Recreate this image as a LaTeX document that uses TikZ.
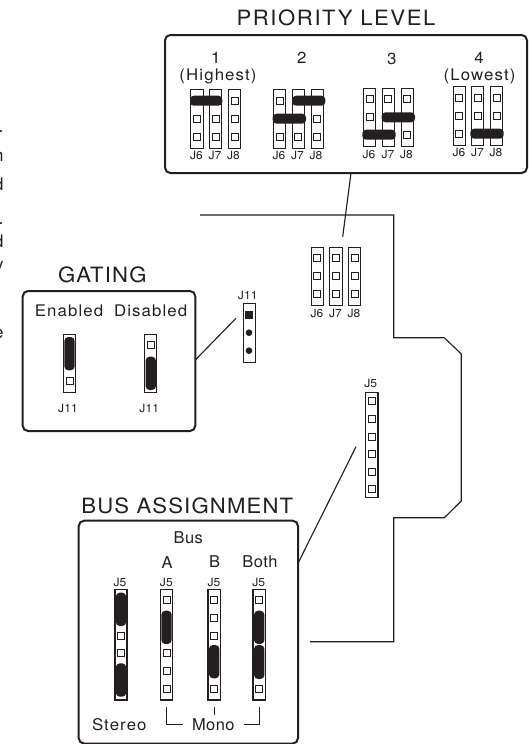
\documentclass[tikz,border=0pt]{standalone}
\usepackage{fontspec}
\usetikzlibrary{fit}
\setmainfont{TeX Gyre Heros}
\newfontfamily\titlefont[FakeStretch=1.05,LetterSpace=5.5]{TeX Gyre Heros}
\newfontfamily\titlewide[FakeStretch=1.05,LetterSpace=7.5]{TeX Gyre Heros}
\newfontfamily\labelfont[FakeStretch=1.05,LetterSpace=7]{TeX Gyre Heros}
\newfontfamily\busfont[FakeStretch=1.01,LetterSpace=3]{TeX Gyre Heros}
\newfontfamily\smallfont[FakeStretch=1.05,LetterSpace=1]{TeX Gyre Heros}
\definecolor{ink}{HTML}{231F20}
\tikzset{
  x=0.75pt,y=-0.75pt,
  every node/.style={inner sep=0pt,outer sep=0pt,text=ink},
  panel/.style={draw=ink,line width=1.5pt,rounded corners=4pt,inner sep=0pt},
  wire/.style={draw=ink,line width=0.85pt},
  thin wire/.style={draw=ink,line width=0.7pt},
  hdr/.style={draw=ink,line width=0.75pt,minimum width=9.2pt,fill=white},
  hdrbold/.style={hdr,line width=1.1pt},
  pin/.style={draw=ink,line width=0.6pt,minimum size=5.2pt,fill=white},
  pinsolid/.style={fill=ink,minimum size=5.6pt},
  pinround/.style={circle,fill=ink,minimum size=5pt},
  title/.style={font=\titlefont\fontsize{15.8pt}{18pt}\selectfont},
  titlew/.style={font=\titlewide\fontsize{15.8pt}{18pt}\selectfont},
  lab/.style={font=\labelfont\fontsize{12pt}{14pt}\selectfont},
  buslab/.style={font=\busfont\fontsize{12.2pt}{14pt}\selectfont},
  tiny/.style={font=\smallfont\fontsize{8.6pt}{10pt}\selectfont},
  edge/.style={anchor=east,font=\fontsize{13pt}{14pt}\selectfont},
}
\newcommand{\Hdr}[5][hdr]{\node[#1,minimum height={(#5-#4)*0.75pt}] (#2) at (#3,{(#4+#5)/2}) {};}
\newcommand{\Pins}[2]{\foreach \py in {#2} {\node[pin] at (#1,\py) {};}}
\newcommand{\HBar}[3]{\fill[ink,rounded corners=2.8pt] (#1,{#3-5}) rectangle (#2,{#3+5});}
\newcommand{\VBar}[3]{\fill[ink,rounded corners=3pt] ({#1-5.2},#2) rectangle ({#1+5.2},#3);}
\begin{document}
\begin{tikzpicture}
\useasboundingbox (0,0) rectangle (529,744);
% cut-off text at the left edge
\node[edge] at (3.5,132) {.};
\node[edge] at (3.5,157) {n};
\node[edge] at (3.5,184) {d};
\node[edge] at (3.5,224) {.};
\node[edge] at (3.5,241) {d};
\node[edge] at (3.5,268) {y};
\node[edge] at (3.5,334) {e};

% board outline
\coordinate (bStart) at (200,215);
\coordinate (bEnd) at (310,641.7);
\draw[wire,line join=miter] (bStart) -- (393.7,215) -- (393.7,337.7) -- (444.3,337.7) -- (461.3,354) -- (461.3,501) -- (444.3,517.7) -- (393.7,517.7) -- (393.7,641.7) -- (bEnd);

% PRIORITY LEVEL
\node[titlew] (tPrio) at (336,17.5) {PRIORITY LEVEL};
\coordinate (pA) at (165,35); \coordinate (pB) at (527,173);
\node[panel,fit=(pA)(pB)] (prio) {};
\node[lab] (p1a) at (215.7,58) {1};
\node[lab] (p1b) at (218,76) {(Highest)};
\node[lab] (p2a) at (301.7,58) {2};
\node[lab] (p3a) at (391.7,59) {3};
\node[lab] (p4a) at (479,58) {4};
\node[lab] (p4b) at (479.5,76) {(Lowest)};

% group 1
\Hdr{a6}{197}{89.3}{148}\Hdr{a7}{215.8}{89.3}{148}\Hdr{a8}{234.5}{89.3}{148}
\Pins{197}{118.7,136.7}\Pins{215.8}{118.7,136.7}\Pins{234.5}{100.7,118.7,136.7}
\HBar{190}{222.3}{100.7}
\node[tiny] (a6l) at (196.5,155.5) {J6};\node[tiny] (a7l) at (215,155.5) {J7};\node[tiny] (a8l) at (233.5,155.5) {J8};
% group 2
\Hdr{b6}{279.5}{89.3}{148}\Hdr{b7}{298.2}{89.3}{148}\Hdr{b8}{317.2}{89.3}{148}
\Pins{279.5}{100.7,136.7}\Pins{298.2}{136.7}\Pins{317.2}{118.7,136.7}
\HBar{292.3}{325.3}{100.7}\HBar{272.7}{306}{118.7}
\node[tiny] (b6l) at (279,155.5) {J6};\node[tiny] (b7l) at (297.5,155.5) {J7};\node[tiny] (b8l) at (316,155.5) {J8};
% group 3
\Hdr{c6}{369.5}{88.3}{146.7}\Hdr{c7}{388.2}{88.3}{146.7}\Hdr{c8}{407.2}{88.3}{146.7}
\Pins{369.5}{99.3,117.3}\Pins{388.2}{99.3}\Pins{407.2}{99.3,135.3}
\HBar{381.7}{415}{117.3}\HBar{362.3}{395.7}{134.7}
\node[tiny] (c6l) at (369,154) {J6};\node[tiny] (c7l) at (388,154) {J7};\node[tiny] (c8l) at (406.5,154) {J8};
% group 4
\Hdr{d6}{459.2}{86.7}{145.3}\Hdr{d7}{477.8}{86.7}{145.3}\Hdr{d8}{496.5}{86.7}{145.3}
\Pins{459.2}{97.7,115.7,133.7}\Pins{477.8}{97.7,115.7}\Pins{496.5}{97.7,115.7}
\HBar{470.3}{503.7}{133.7}
\node[tiny] (d6l) at (459,152.7) {J6};\node[tiny] (d7l) at (477.5,152.7) {J7};\node[tiny] (d8l) at (496,152.7) {J8};

% board J6 J7 J8
\Hdr{m6}{317.3}{247}{305}\Hdr{m7}{336}{247}{305}\Hdr{m8}{354.7}{247}{305}
\Pins{317.3}{258,275.7,293.7}\Pins{336}{258,275.7,293.7}\Pins{354.7}{258,275.7,293.7}
\node[tiny] (m6l) at (317,313) {J6};\node[tiny] (m7l) at (335.5,313) {J7};\node[tiny] (m8l) at (354,313) {J8};
\coordinate (pPort) at (351,173);\coordinate (pEnd) at (342.7,236.7);
\draw[wire] (prio.south -| pPort) -- (pEnd);

% board J5
\Hdr[hdrbold]{j5}{371.7}{392.7}{497.7}
\Pins{371.7}{401,419,436.7,454.3,472.3,488.7}
\node[tiny] (j5l) at (370.7,383.5) {J5};

% board J11
\node[tiny] (j11l) at (247.7,295) {J11};
\Hdr{j11}{249.5}{303.7}{362}
\node[pin,pinsolid] at (249,315) {};
\node[pinround] at (249,332.7) {};
\node[pinround] at (249,350.7) {};

% GATING
\node[title] (tGate) at (102.3,274.5) {GATING};
\coordinate (gA) at (22.7,291); \coordinate (gB) at (195.3,431);
\node[panel,fit=(gA)(gB)] (gate) {};
\node[lab] (gEn) at (69,311) {Enabled};
\node[lab] (gDis) at (150.7,311) {Disabled};
\Hdr{ge}{69.5}{334.3}{392.7}
\Pins{69.5}{380.7}
\VBar{69.5}{337}{370.3}
\Hdr{gd}{150.8}{334.3}{392.7}
\Pins{150.8}{345.3}
\VBar{150.8}{356.7}{390}
\node[tiny] (gel) at (68,408) {J11};
\node[tiny] (gdl) at (149.3,408) {J11};
\coordinate (gPort) at (195.7,360);\coordinate (gEnd) at (236,318.3);
\draw[wire] (gate.east |- gPort) -- (gEnd);

% BUS ASSIGNMENT
\node[title] (tBus) at (187.3,505.5) {BUS ASSIGNMENT};
\coordinate (sA) at (78.7,520.7); \coordinate (sB) at (298,743.5);
\node[panel,fit=(sA)(sB)] (bus) {};
\node[buslab] (sBus) at (188.3,537.5) {Bus};
\node[buslab] (sAl) at (167,563) {A};
\node[buslab] (sBl) at (214.7,562) {B};
\node[buslab] (sBoth) at (260,562) {Both};
\node[tiny] (s1) at (120,582) {J5};\node[tiny] (s2) at (166.3,582) {J5};\node[tiny] (s3) at (214,582) {J5};\node[tiny] (s4) at (258.7,582) {J5};
\Hdr[hdrbold]{h1}{121}{589.3}{700}\Hdr[hdrbold]{h2}{166.5}{589.3}{700}\Hdr[hdrbold]{h3}{214.2}{589.3}{700}\Hdr[hdrbold]{h4}{259.2}{589.3}{700}
\Pins{121}{635.7,653.3}
\VBar{121}{592.7}{626}\VBar{121}{663.3}{696.7}
\Pins{166.5}{600,653.3,671,689}
\VBar{166.5}{610.7}{644}
\Pins{214.2}{600,617.7,635.7,689}
\VBar{214.2}{645}{678.3}
\Pins{259.2}{600,689}
\VBar{259.2}{610.7}{644}\VBar{259.2}{645}{679}
\node[lab] (sSt) at (119.3,724.5) {Stereo};
\node[buslab] (sMo) at (213.3,724.5) {Mono};
\draw[thin wire] (h2.south |- 0,707.3) -- (h2.south |- 0,724.3) -- (183.3,724.3);
\draw[thin wire] (h3.south |- 0,707.3) -- (h3.south |- 0,715.3);
\draw[thin wire] (244,724.3) -- (h4.south |- 0,724.3) -- (h4.south |- 0,707.3);
\coordinate (sPort) at (298,563.3);\coordinate (sEnd) at (356,446.7);
\draw[wire] (bus.east |- sPort) -- (sEnd);
\end{tikzpicture}
\end{document}
